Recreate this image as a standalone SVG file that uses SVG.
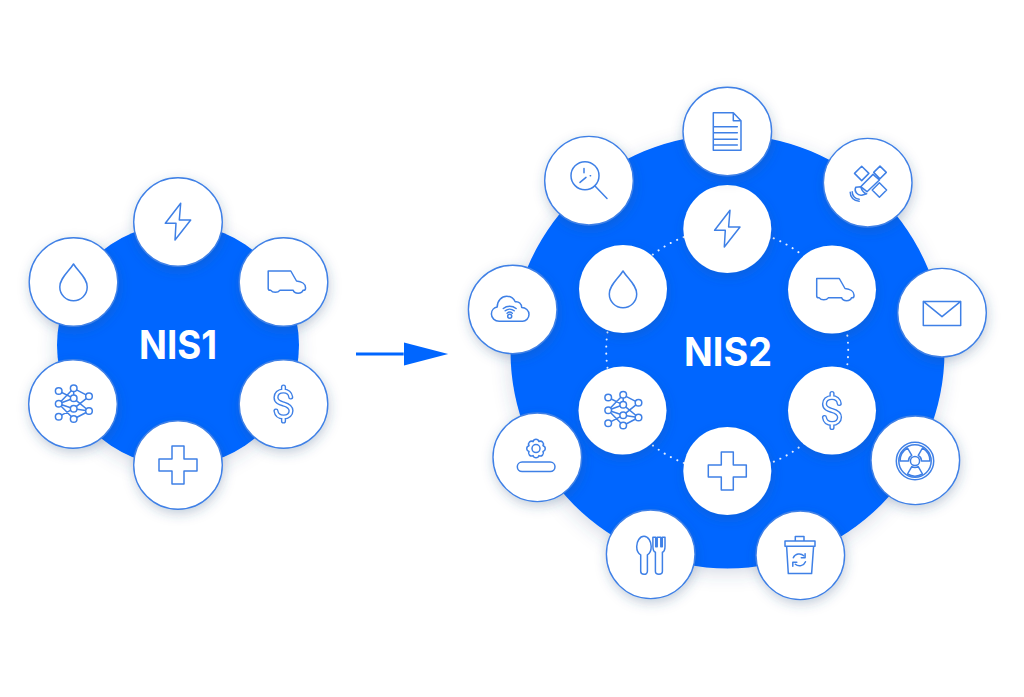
<svg xmlns="http://www.w3.org/2000/svg" width="1024" height="697" viewBox="0 0 1024 697">
<style>
.bg{fill:#fff}
.big{fill:#0066ff;filter:url(#bigshadow)}
.disc{fill:#fff;stroke:#3f80e6;stroke-width:1.4;filter:url(#shadow)}
.inner{fill:#fff;filter:url(#shadow)}
.ic{fill:none;stroke:#3f80e6;stroke-width:1.5;stroke-linejoin:round;stroke-linecap:round}
.ring{fill:none;stroke:#fff;stroke-width:2;stroke-dasharray:.1 7;stroke-linecap:round;opacity:.9}
.title{font-family:Inter,"Liberation Sans",sans-serif;font-weight:700;fill:#fff;text-anchor:middle}
.flow{stroke:#0066ff;stroke-width:3;fill:none}
</style>
<defs>
<filter id="shadow" x="-40%" y="-40%" width="190%" height="190%"><feDropShadow dx="1" dy="4" stdDeviation="6" flood-color="#33507f" flood-opacity=".28"/></filter>
<filter id="bigshadow" x="-20%" y="-20%" width="140%" height="140%"><feDropShadow dx="-1" dy="5" stdDeviation="9" flood-color="#33507f" flood-opacity=".2"/></filter>
<marker id="head" markerUnits="userSpaceOnUse" markerWidth="46" markerHeight="26" refX="0" refY="12" orient="auto"><path d="M0 0.5L44.5 12L0 23.5Z" fill="#0066ff"/></marker>
<g id="i-bolt" class="ic"><path d="M2.7-18.7L-12.7 1.3H-2L-3 18L12.7-2H1.3Z"/></g>
<g id="i-drop" class="ic"><path d="M0-18C5-10 13.7-4 13.7 5A13.7 13.7 0 0 1-13.7 5C-13.7-4-5-10 0-18Z"/></g>
<g id="i-truck" class="ic"><path d="M-15.300-11H7.300L13-1C18-.5 22 2 22 5.500V6.500Q22 8.300 20 8.300H19.500A5 3.600 0 0 1 9.700 8.300H-3.700A5 3.600 0 0 1-12.700 8.300H-13.300Q-15.300 8.300-15.300 6.500Z"/></g>
<g id="i-net" class="ic">
<path d="M-14.300-13L.7-5.700M-14.300-.3L.7-15.700M-14.300-.3L.7-5.700M-14.300-.3L.7 4.700M-14.300-.3L.7 15M-14.300 12.700L.7 4.700M.7-15.700L16-7.700M.7-5.700L16 7M.7 4.700L16-7.700M.7 4.700L16 7M.7 15L16 7M.7-15.700V-5.700"/>
<g fill="#fff"><circle cx="-14.300" cy="-13" r="3.300"/><circle cx=".7" cy="-15.700" r="3.300"/><circle cx="16" cy="-7.700" r="3.300"/><circle cx="-14.300" cy="-.3" r="3.300"/><circle cx=".7" cy="-5.700" r="3.300"/><circle cx=".7" cy="4.700" r="3.300"/><circle cx="16" cy="7" r="3.300"/><circle cx="-14.300" cy="12.700" r="3.300"/><circle cx=".7" cy="15" r="3.300"/></g></g>
<g id="i-dollar" fill="none">
<path d="M7.200-7C6.800-10.500 4-13 0-13C-5-13-7.500-10-7.500-6.500C-7.500-2-3.500-1 0 0C3.500 1 7.500 2.500 7.500 6.800C7.500 10 5 13 0 13C-4.500 13-7 10.500-7.500 7M0-17V-13M0 13V17" stroke="#3f80e6" stroke-width="5.200" stroke-linecap="round" stroke-linejoin="round"/>
<path d="M7.200-7C6.800-10.500 4-13 0-13C-5-13-7.500-10-7.500-6.500C-7.500-2-3.500-1 0 0C3.500 1 7.500 2.500 7.500 6.800C7.500 10 5 13 0 13C-4.500 13-7 10.500-7.500 7M0-17V-13M0 13V17" stroke="#fff" stroke-width="2.400" stroke-linecap="round" stroke-linejoin="round"/></g>
<g id="i-plus" class="ic"><path d="M-6-19H6V-6H19V6H6V19H-6V6H-19V-6H-6Z"/></g>
<g id="i-doc" class="ic"><path d="M-14-18.800H6L13.700-10.800V18.800H-14ZM6-18.800V-10.800H13.700M-14-4.800H10M-14 1.200H10M-14 7.800H10M-14 13.500H10"/></g>
<g id="i-clock" class="ic"><circle cx="-4" cy="-5" r="14"/><path d="M6 5.300L18 17.700M-5-12.300V-8M-9 1.700L-3-3.300M1.200-5H1.600"/></g>
<g id="i-cloud" class="ic"><path d="M-13.500 11.700C-18 11.700-21.300 8.500-21.300 4.500C-21.300.5-18.500-2-15.500-2.500C-15.500-9-11-13.300-6-13.300C-2-13.300 1-11 2.500-7.700C6-8.500 9-5.500 9-2C13-2 16.300 1 16.300 5C16.300 9 13 11.700 10 11.700Z"/><path d="M-9.400-1A10 10 0 0 1 3.400-1M-7.500 1.300A7 7 0 0 1 1.500 1.300M-5.600 3.700A4 4 0 0 1-.4 3.700"/><circle cx="-3" cy="6.700" r="2"/></g>
<g id="i-sat" class="ic"><path d="M-6-16.500L1.200-9.300L-6-2.100L-13.200-9.300ZM11.700.1L18.900 7.300L11.700 14.500L4.500 7.300ZM12.300-16.600L18.600-10.300L12.300-4L6-10.300ZM-7 4L5.300-8.300L11.700-2.700L-.7 9Z"/><path d="M-12 4.500C-14 9-10 13-6 12.500L-1 11C-3 11-6 8-7 4Z"/><path d="M-15.500 9C-15.500 13-12.500 16.500-8.500 16.500M-17.500 9.500C-17.500 14.500-14 18.500-8.500 18.500"/></g>
<g id="i-mail" class="ic"><path d="M-18.700-11.300H18.700V12.700H-18.700ZM-18.700-11.300L0 4L18.700-11.300"/></g>
<g id="i-gear" class="ic"><path transform="translate(-1.300 -8.700)" d="M7-2.900A3 3 0 0 1 7 2.900A3 3 0 0 1 2.900 7A3 3 0 0 1-2.900 7A3 3 0 0 1-7 2.900A3 3 0 0 1-7-2.900A3 3 0 0 1-2.900-7A3 3 0 0 1 2.900-7A3 3 0 0 1 7-2.900Z"/><circle cx="-1.300" cy="-8.700" r="4"/><rect x="-20" y="4.700" width="37.700" height="9.600" rx="4.800"/></g>
<g id="i-fork" class="ic"><path d="M-6.700-18C-11-18-14-13-14-7.700C-14-3-12-.5-10 .5V17C-10 19-8.500 20-6.700 20C-4.800 20-3.300 19-3.300 17V.5C-1.300-.5.500-3 .5-7.700C.5-13-2.400-18-6.700-18Z"/><path d="M2.200-17V-8C2.200-4 3.200-2.500 4.700-2V17C4.700 19 6.200 20 8.200 20C10.200 20 11.700 19 11.700 17V-2C13.200-2.500 14.300-4 14.300-8V-17H11.600V-7.500H10.100V-17H6.500V-7.500H5V-17Z"/></g>
<g id="i-bin" class="ic"><path d="M-15.300-14.300H14.700V-9H-15.300ZM-5-14.300V-18.700H3.700V-14.300M-13.700-9L-12 18.300H11.300L13.300-9"/><path d="M-7 2.500A6.500 6.500 0 0 1 3.500 .5M5.200 6.500A6.500 6.500 0 0 1-5 9"/><path d="M4.800-1.500V2.500H1M-7.500 11V7H-3.500"/></g>
<g id="i-rad" class="ic"><circle cx="-.3" cy=".7" r="18.700"/><circle cx="-.3" cy=".7" r="16.200"/><circle cx="-.3" cy=".7" r="4.600"/><g transform="translate(-.3 .7)"><path d="M-15 0A15 15 0 0 1-7.500-13L-3.250-5.600A6.500 6.500 0 0 0-6.500 0ZM7.500-13A15 15 0 0 1 15 0H6.500A6.500 6.500 0 0 0 3.250-5.600ZM7.500 13A15 15 0 0 1-7.500 13L-3.250 5.600A6.500 6.500 0 0 0 3.250 5.600Z"/></g></g>
</defs>
<rect class="bg" width="1024" height="697"/>

<g id="nis1">
<circle class="big" cx="178" cy="345" r="121"/>
<text class="title" x="178" y="359" font-size="39" textLength="78" lengthAdjust="spacingAndGlyphs">NIS1</text>
</g>
<g id="nis2">
<circle class="big" cx="727.500" cy="351.500" r="217"/>
<circle class="ring" cx="727.200" cy="350" r="121"/>
<text class="title" x="728" y="365.500" font-size="39" textLength="88" lengthAdjust="spacingAndGlyphs">NIS2</text>
</g>

<g id="connectors"><path class="flow" d="M356 354H403.700" marker-end="url(#head)"/></g>

<g id="a-energy"><circle class="disc" cx="178" cy="222" r="44.300"/><use href="#i-bolt" x="178" y="222"/></g>
<g id="a-water"><circle class="disc" cx="73.500" cy="282" r="44.300"/><use href="#i-drop" x="73.500" y="282"/></g>
<g id="a-transport"><circle class="disc" cx="283.500" cy="282" r="44.300"/><use href="#i-truck" x="283.500" y="282"/></g>
<g id="a-digital"><circle class="disc" cx="73" cy="404" r="44.300"/><use href="#i-net" x="73" y="404"/></g>
<g id="a-finance"><circle class="disc" cx="283.500" cy="404" r="44.300"/><use href="#i-dollar" x="283.500" y="404"/></g>
<g id="a-health"><circle class="disc" cx="178" cy="465" r="44.300"/><use href="#i-plus" x="178" y="465"/></g>

<g id="b-energy"><circle class="inner" cx="727.300" cy="229" r="44"/><use href="#i-bolt" x="727.300" y="229"/></g>
<g id="b-water"><circle class="inner" cx="623" cy="289" r="44"/><use href="#i-drop" x="623" y="289"/></g>
<g id="b-transport"><circle class="inner" cx="832" cy="289.500" r="44"/><use href="#i-truck" x="832" y="289.500"/></g>
<g id="b-digital"><circle class="inner" cx="622.500" cy="410.500" r="44"/><use href="#i-net" x="622.500" y="410.500"/></g>
<g id="b-finance"><circle class="inner" cx="832" cy="410.500" r="44"/><use href="#i-dollar" x="832" y="410.500"/></g>
<g id="b-health"><circle class="inner" cx="727.300" cy="471" r="44"/><use href="#i-plus" x="727.300" y="471"/></g>

<g id="c-doc"><circle class="disc" cx="727.300" cy="131.500" r="44.300"/><use href="#i-doc" x="727.300" y="131.500"/></g>
<g id="c-research"><circle class="disc" cx="589" cy="180.700" r="44.300"/><use href="#i-clock" x="589" y="180.700"/></g>
<g id="c-space"><circle class="disc" cx="867.700" cy="182.700" r="44.300"/><use href="#i-sat" x="867.700" y="182.700"/></g>
<g id="c-mail"><circle class="disc" cx="942" cy="312.700" r="44.300"/><use href="#i-mail" x="942" y="312.700"/></g>
<g id="c-cloud"><circle class="disc" cx="512.700" cy="309.500" r="44.300"/><use href="#i-cloud" x="512.700" y="309.500"/></g>
<g id="c-manufacturing"><circle class="disc" cx="537.300" cy="457.300" r="44.300"/><use href="#i-gear" x="537.300" y="457.300"/></g>
<g id="c-food"><circle class="disc" cx="650.700" cy="554.300" r="44.300"/><use href="#i-fork" x="650.700" y="554.300"/></g>
<g id="c-waste"><circle class="disc" cx="800.300" cy="555.300" r="44.300"/><use href="#i-bin" x="800.300" y="555.300"/></g>
<g id="c-nuclear"><circle class="disc" cx="915.300" cy="460.300" r="44.300"/><use href="#i-rad" x="915.300" y="460.300"/></g>
</svg>
